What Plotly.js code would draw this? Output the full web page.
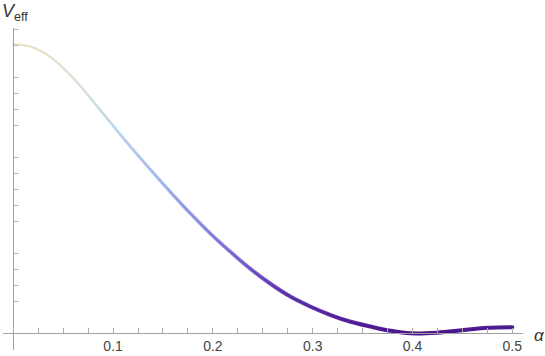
<!DOCTYPE html>
<html>
<head>
<meta charset="utf-8">
<script src="https://cdn.plot.ly/plotly-3.0.1.min.js"></script>
<style>
  html, body { margin: 0; padding: 0; background: #fff; }
  #plot { width: 545px; height: 356px; }
  .scatterlayer path.js-line { stroke-linecap: round; }
</style>
</head>
<body>
<div id="plot"></div>
<script>
// valores
const alpha = [0, 0.017, 0.037, 0.057, 0.077, 0.097, 0.117, 0.137, 0.157, 0.177, 0.197,
               0.217, 0.237, 0.258, 0.278, 0.298, 0.318, 0.338, 0.358, 0.378, 0.398,
               0.425, 0.451, 0.475, 0.5];
const veff = [0.904, 0.896, 0.864, 0.808, 0.736, 0.660, 0.585, 0.513, 0.443, 0.376, 0.313,
              0.256, 0.203, 0.154, 0.114, 0.083, 0.057, 0.036, 0.021, 0.008, 0.000,
              0.002, 0.010, 0.017, 0.019];

const xTicks = [0.1, 0.2, 0.3, 0.4, 0.5];
const xLabels = ["0.1", "0.2", "0.3", "0.4", "0.5"];
const yTicks = [0.1, 0.15, 0.2, 0.25, 0.35, 0.4, 0.45, 0.5, 0.55, 0.65, 0.7, 0.75, 0.8,
                0.9, 0.95];

// colores tipo "LakeColors" (0 = abajo, 1 = arriba)
const stops = [
  [0.00, "rgb(74,22,140)"],
  [0.15, "rgb(92,48,176)"],
  [0.30, "rgb(118,110,214)"],
  [0.50, "rgb(150,168,232)"],
  [0.70, "rgb(182,210,234)"],
  [0.85, "rgb(214,224,214)"],
  [1.00, "rgb(232,223,196)"]
];

const curva = {
  x: alpha,
  y: veff,
  mode: "lines",
  type: "scatter",
  hoverinfo: "skip",
  showlegend: false,
  line: { color: "rgb(118,110,214)", width: 2.2, shape: "spline", smoothing: 1 }
};

// misma curva, mas gruesa, que aparece hacia abajo
const curvaGruesa = {
  x: alpha,
  y: veff,
  mode: "lines",
  type: "scatter",
  hoverinfo: "skip",
  showlegend: false,
  line: { color: "rgb(74,22,140)", width: 4, shape: "spline", smoothing: 1 }
};

const xRange = [-0.0103, 0.5107];
const yRange = [-0.0522, 0.954];
const y0pos = (0 - yRange[0]) / (yRange[1] - yRange[0]);
const x0pos = (0 - xRange[0]) / (xRange[1] - xRange[0]);

const layout = {
  width: 545,
  height: 356,
  margin: { l: 3, r: 22, t: 28, b: 6 },
  paper_bgcolor: "#fff",
  plot_bgcolor: "#fff",
  font: { family: "Liberation Sans, Arial, sans-serif", size: 14, color: "#444" },
  xaxis: {
    range: xRange,
    anchor: "free",
    position: y0pos,
    showgrid: false,
    zeroline: false,
    showline: true,
    linecolor: "#a0a0a0",
    linewidth: 1,
    ticks: "inside",
    ticklen: 5,
    tickcolor: "#a8a8a8",
    tickvals: xTicks,
    ticktext: xLabels,
    tickfont: { size: 14, color: "#444" },
    minor: { dtick: 0.025, tick0: 0, ticks: "inside", ticklen: 5, tickcolor: "#a8a8a8", showgrid: false }
  },
  yaxis: {
    range: yRange,
    anchor: "free",
    position: x0pos,
    showgrid: false,
    zeroline: false,
    showline: true,
    linecolor: "#a0a0a0",
    linewidth: 1,
    ticks: "inside",
    ticklen: 5,
    tickcolor: "#b8b8b8",
    tickvals: yTicks,
    showticklabels: false
  },
  annotations: [
    {
      xref: "paper", yref: "paper", x: -0.006, y: 1.005,
      xanchor: "left", yanchor: "bottom", showarrow: false,
      text: "<i>V</i><sub>eff</sub>",
      font: { size: 18, color: "#333" }
    },
    {
      xref: "paper", yref: "paper", x: 1.018, y: y0pos + 0.03,
      xanchor: "left", yanchor: "top", showarrow: false,
      text: "<i>α</i>",
      font: { size: 17, color: "#333" }
    }
  ]
};

function degradado(svg, id, conOpacidad) {
  const ns = "http://www.w3.org/2000/svg";
  let defs = svg.querySelector("defs");
  if (!defs) {
    defs = document.createElementNS(ns, "defs");
    svg.insertBefore(defs, svg.firstChild);
  }
  const g = document.createElementNS(ns, "linearGradient");
  g.setAttribute("id", id);
  g.setAttribute("x1", "0");
  g.setAttribute("y1", "0");
  g.setAttribute("x2", "0");
  g.setAttribute("y2", "1");
  // el bbox va de vMax (arriba) a 0 (abajo)
  for (let i = stops.length - 1; i >= 0; i--) {
    const s = document.createElementNS(ns, "stop");
    const off = 1 - stops[i][0];
    s.setAttribute("offset", off);
    s.setAttribute("stop-color", stops[i][1]);
    if (conOpacidad) s.setAttribute("stop-opacity", Math.pow(off, 1.3));
    g.appendChild(s);
  }
  defs.appendChild(g);
}

Plotly.newPlot("plot", [curva, curvaGruesa], layout, { staticPlot: true, displayModeBar: false })
  .then(gd => {
    const svg = gd.querySelector("svg.main-svg");
    degradado(svg, "gradFino", false);
    degradado(svg, "gradGrueso", true);
    const lineas = gd.querySelectorAll(".scatterlayer .trace path.js-line");
    if (lineas[0]) lineas[0].style.stroke = "url(#gradFino)";
    if (lineas[1]) lineas[1].style.stroke = "url(#gradGrueso)";
  });
</script>
</body>
</html>
